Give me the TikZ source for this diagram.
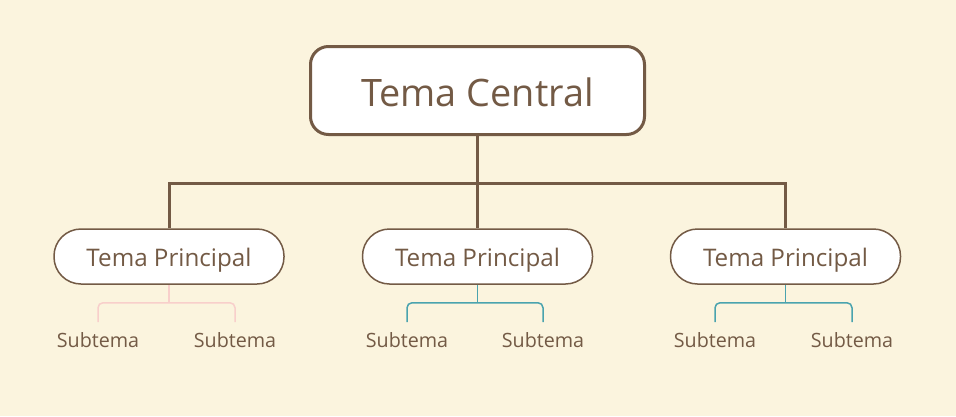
\documentclass[tikz,border=0pt]{standalone}
\usepackage{fontspec}
\setmainfont{Open Sans}
\usetikzlibrary{calc}
\definecolor{bg}{HTML}{FBF4DE}
\definecolor{brn}{HTML}{735A45}
\definecolor{pnk}{HTML}{F8CFCB}
\definecolor{tel}{HTML}{4AA3AE}
\newcommand{\lowtxt}[2]{\raisebox{-#1pt}[\height][\depth]{#2}}
\begin{document}
\begin{tikzpicture}[x=1pt,y=-1pt,
  central/.style={draw=brn,line width=3pt,fill=white,rounded corners=18pt,minimum width=334pt,minimum height=88pt,text=brn,font=\fontsize{37.8}{40}\selectfont,inner sep=0pt},
  principal/.style={draw=brn,line width=1.5pt,fill=white,rounded corners=27pt,minimum width=230pt,minimum height=55pt,text=brn,font=\fontsize{24.2}{26}\selectfont,inner sep=0pt},
  subtema/.style={text=brn,font=\fontsize{19.7}{21}\selectfont,inner sep=0pt},
  trunk/.style={draw=brn,line width=3pt},
  pbranch/.style={draw=pnk,line width=1.5pt,rounded corners=5pt},
  tbranch/.style={draw=tel,line width=1.5pt,rounded corners=5pt}]
\fill[bg] (0,0) rectangle (956,416);
\useasboundingbox (0,0) rectangle (956,416);
\node[central] (c) at (477.5,90.5) {\lowtxt{1.5}{Tema Central}};
\node[principal] (p1) at (169,256.5) {\lowtxt{3.5}{Tema Principal}};
\node[principal] (p2) at (477.5,256.5) {\lowtxt{3.5}{Tema Principal}};
\node[principal] (p3) at (785.5,256.5) {\lowtxt{3.5}{Tema Principal}};
\node[subtema] (s11) at (98,340) {\lowtxt{0.5}{Subtema}};
\node[subtema] (s12) at (235,340) {\lowtxt{0.5}{Subtema}};
\node[subtema] (s21) at (407,340) {\lowtxt{0.5}{Subtema}};
\node[subtema] (s22) at (543,340) {\lowtxt{0.5}{Subtema}};
\node[subtema] (s31) at (715,340) {\lowtxt{0.5}{Subtema}};
\node[subtema] (s32) at (852,340) {\lowtxt{0.5}{Subtema}};
\coordinate (j) at (477.5,183);
\draw[trunk] (c.south) -- (j);
\draw[trunk] (p1.north) |- (j) -| (p3.north);
\draw[trunk] (j) -- (p2.north);
\foreach \p/\a/\b/\s in {p1/s11/s12/pbranch,p2/s21/s22/tbranch,p3/s31/s32/tbranch}{
  \coordinate (\p m) at ($(\p.south)+(0,18)$);
  \draw[\s] (\p.south) -- (\p m);
  \draw[\s] ($(\a.center)+(0,-18)$) |- (\p m) -| ($(\b.center)+(0,-18)$);
}
\end{tikzpicture}
\end{document}
